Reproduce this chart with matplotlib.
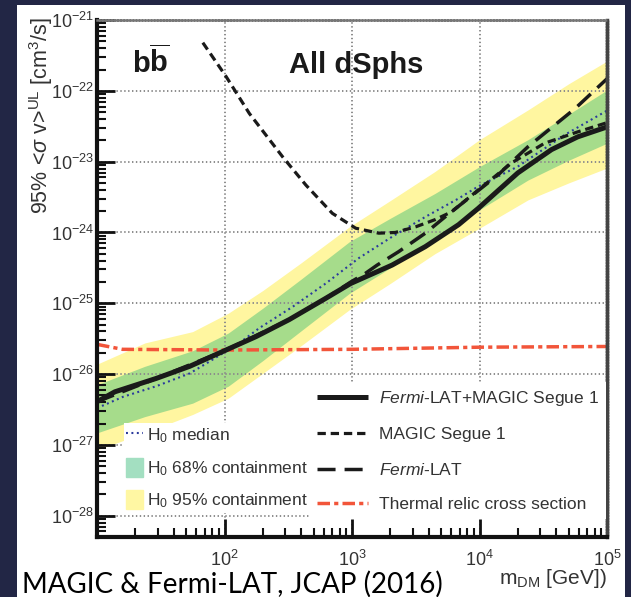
import numpy as np
import matplotlib
matplotlib.use('Agg')
import matplotlib.pyplot as plt
from matplotlib.patches import Patch, Rectangle
from matplotlib.ticker import LogLocator, NullFormatter

W, H = 631, 597

# all values are log10(m_DM / GeV) and log10(<sigma v> / cm^3 s^-1)
band_logm = [1.0, 1.375, 1.75, 2.03, 2.3, 2.6, 2.98, 3.3, 3.65, 4.0, 4.38, 4.7, 5.0]
band95_hi = [-25.86, -25.56, -25.40, -25.14, -24.82, -24.43, -23.92, -23.55, -23.14, -22.69, -22.27, -21.90, -21.58]
band68_hi = [-26.15, -25.89, -25.67, -25.42, -25.07, -24.66, -24.13, -23.80, -23.45, -23.07, -22.69, -22.33, -21.99]
band68_lo = [-26.83, -26.60, -26.41, -26.17, -25.81, -25.39, -24.86, -24.50, -24.08, -23.68, -23.26, -22.98, -22.74]
band95_lo = [-27.07, -26.83, -26.57, -26.34, -25.99, -25.60, -25.09, -24.72, -24.30, -23.94, -23.54, -23.30, -23.09]

median_logm = [1.0, 1.205, 1.466, 1.727, 1.857, 2.117, 2.273, 2.534, 2.794, 3.055, 3.315, 3.575, 3.836, 3.99, 4.30, 4.67, 5.0]
median_logsv = [-26.48, -26.32, -26.17, -25.99, -25.85, -25.56, -25.35, -25.05, -24.72, -24.36, -24.06, -23.78, -23.52, -23.35, -23.07, -22.62, -22.28]

comb_logm = [1.0, 1.14, 1.466, 1.727, 1.987, 2.248, 2.508, 2.794, 2.99, 3.315, 3.575, 3.836, 3.99, 4.30, 4.565, 4.77, 5.0]
comb_logsv = [-26.39, -26.25, -26.06, -25.89, -25.68, -25.47, -25.23, -24.93, -24.72, -24.46, -24.20, -23.89, -23.66, -23.16, -22.83, -22.65, -22.51]

fermi_logm = [1.0, 1.466, 1.987, 2.508, 2.794, 2.99, 3.107, 3.198, 3.367, 3.575, 3.73, 4.15, 4.38, 4.75, 5.0]
fermi_logsv = [-26.39, -26.06, -25.68, -25.23, -24.93, -24.70, -24.575, -24.46, -24.27, -24.01, -23.78, -23.18, -22.79, -22.25, -21.83]

magic_logm = [1.83, 2.013, 2.195, 2.455, 2.638, 2.846, 3.029, 3.21, 3.34, 3.5, 3.65, 3.78, 3.99, 4.25, 4.51, 4.77, 5.0]
magic_logsv = [-21.32, -21.80, -22.32, -22.93, -23.33, -23.73, -23.94, -24.01, -24.00, -23.92, -23.82, -23.71, -23.40, -23.02, -22.74, -22.58, -22.45]

relic_logm = [1.0, 1.2, 2.0, 3.0, 4.0, 5.0]
relic_logsv = [-25.58, -25.65, -25.66, -25.65, -25.62, -25.61]

x_ticks = [1e2, 1e3, 1e4, 1e5]
y_ticks = [1e-28, 1e-27, 1e-26, 1e-25, 1e-24, 1e-23, 1e-22, 1e-21]

plt.rcParams['font.family'] = ['Liberation Sans', 'DejaVu Sans']
plt.rcParams['mathtext.fontset'] = 'custom'
plt.rcParams['mathtext.rm'] = 'Liberation Sans'
plt.rcParams['mathtext.it'] = 'Liberation Sans:italic'
plt.rcParams['mathtext.bf'] = 'Liberation Sans:bold'
plt.rcParams['lines.scale_dashes'] = False

fig = plt.figure(figsize=(W / 100, H / 100), dpi=100)
fig.patch.set_facecolor('#222645')
fig.add_artist(Rectangle((17 / W, 0), (625 - 17) / W, 1 - 5 / H, transform=fig.transFigure,
                         facecolor='white', edgecolor='none', zorder=-1))

ax = fig.add_axes([97 / W, 1 - 537 / H, 510 / W, 517 / H])
ax.set_xscale('log')
ax.set_yscale('log')


def p(v):
    return 10 ** np.array(v)


bm = p(band_logm)
ax.fill_between(bm, p(band95_lo), p(band95_hi), color='#fff6a0', lw=0)
ax.fill_between(bm, p(band68_lo), p(band68_hi), color='#a6dc8b', lw=0)

med, = ax.plot(p(median_logm), p(median_logsv), color='#2a3a9c', lw=1.5, ls=(0, (1.4, 2.5)))
fer, = ax.plot(p(fermi_logm), p(fermi_logsv), color='#1a1a1a', lw=2.5, ls=(0, (13, 6.5)))
mag, = ax.plot(p(magic_logm), p(magic_logsv), color='#1a1a1a', lw=2.3, ls=(0, (6, 3.5)))
rel, = ax.plot(p(relic_logm), p(relic_logsv), color='#f2553a', lw=2.5, ls=(0, (9, 3, 3, 3)))
comb, = ax.plot(p(comb_logm), p(comb_logsv), color='#1a1a1a', lw=3.6, solid_capstyle='butt')

ax.grid(which='major', ls=(0, (1, 1.8)), color='#8c8c8c', lw=1.4)

for s in ('left', 'bottom'):
    ax.spines[s].set_linewidth(3)
    ax.spines[s].set_color('#111111')
ax.spines['top'].set_linestyle((0, (1, 1.2)))
ax.spines['top'].set_color('#777777')
ax.spines['top'].set_linewidth(1.8)
ax.spines['right'].set_linestyle((0, (1, 1)))
ax.spines['right'].set_color('#444444')
ax.spines['right'].set_linewidth(2.5)

ax.set_xticks(x_ticks)
ax.set_yticks(y_ticks)
ax.xaxis.set_minor_locator(LogLocator(base=10, subs=np.arange(2, 10), numticks=20))
ax.yaxis.set_minor_locator(LogLocator(base=10, subs=np.arange(2, 10), numticks=20))
ax.xaxis.set_minor_formatter(NullFormatter())
ax.yaxis.set_minor_formatter(NullFormatter())
ax.set_xlim(10, 1e5)
ax.set_ylim(10 ** -28.3, 1e-21)
ax.tick_params(which='both', direction='in', top=False, right=False, color='#111111',
               labelcolor='#333333', labelsize=13)
ax.tick_params(which='major', length=13, width=2)
ax.tick_params(which='minor', length=6.5, width=1.5)
ax.tick_params(axis='y', which='major', pad=2)
ax.tick_params(axis='x', which='major', pad=9)

ax.legend([comb, mag, fer, rel],
          [r'$\mathit{Fermi}$-LAT+MAGIC Segue 1', 'MAGIC Segue 1', r'$\mathit{Fermi}$-LAT',
           'Thermal relic cross section'],
          loc='upper left', bbox_to_anchor=(301 / W, 1 - 373 / H),
          bbox_transform=fig.transFigure, fontsize=12.5, frameon=True,
          facecolor='white', edgecolor='none', framealpha=1, fancybox=False,
          handlelength=2.95, handletextpad=0.65, labelspacing=1.12, borderpad=0.4,
          labelcolor='#333333')
left_leg = fig.legend([med, Patch(color='#a3dfc1'), Patch(color='#fff7a3')],
                      ['H$_0$ median', 'H$_0$ 68% containment', 'H$_0$ 95% containment'],
                      loc='upper left', bbox_to_anchor=(115 / W, 1 - 414 / H),
                      fontsize=12.5, frameon=True,
                      facecolor='white', edgecolor='none', framealpha=1, fancybox=False,
                      handlelength=0.95, handleheight=1.3, handletextpad=0.25,
                      labelspacing=0.72, borderpad=0.15, labelcolor='#333333')
left_leg.set_zorder(6)

fig.text(132 / W, 1 - 73 / H, r'$\mathbf{b}\overline{\mathbf{b}}$', fontsize=21,
         color='#1a1a1a', va='baseline', ha='left')
fig.text(289 / W, 1 - 73 / H, 'All dSphs', fontsize=21, fontweight='bold',
         color='#1a1a1a', va='baseline', ha='left')
fig.text(41 / W, 1 - 115.5 / H, r'95% <$\sigma$ v>$^{\rm UL}$ [cm$^3$/s]', fontsize=15.5,
         rotation=90, ha='center', va='center', color='#333333')
fig.text(607 / W, 1 - 584 / H, r'm$_{\rm DM}$ [GeV])', fontsize=15, ha='right',
         va='baseline', color='#333333')
fig.text(22 / W, 1 - 593 / H, 'MAGIC & Fermi-LAT, JCAP (2016)', fontsize=20,
         family=['Lato', 'DejaVu Sans'], ha='left', va='baseline', color='black')

fig.savefig('out.png', dpi=100, facecolor=fig.get_facecolor())
